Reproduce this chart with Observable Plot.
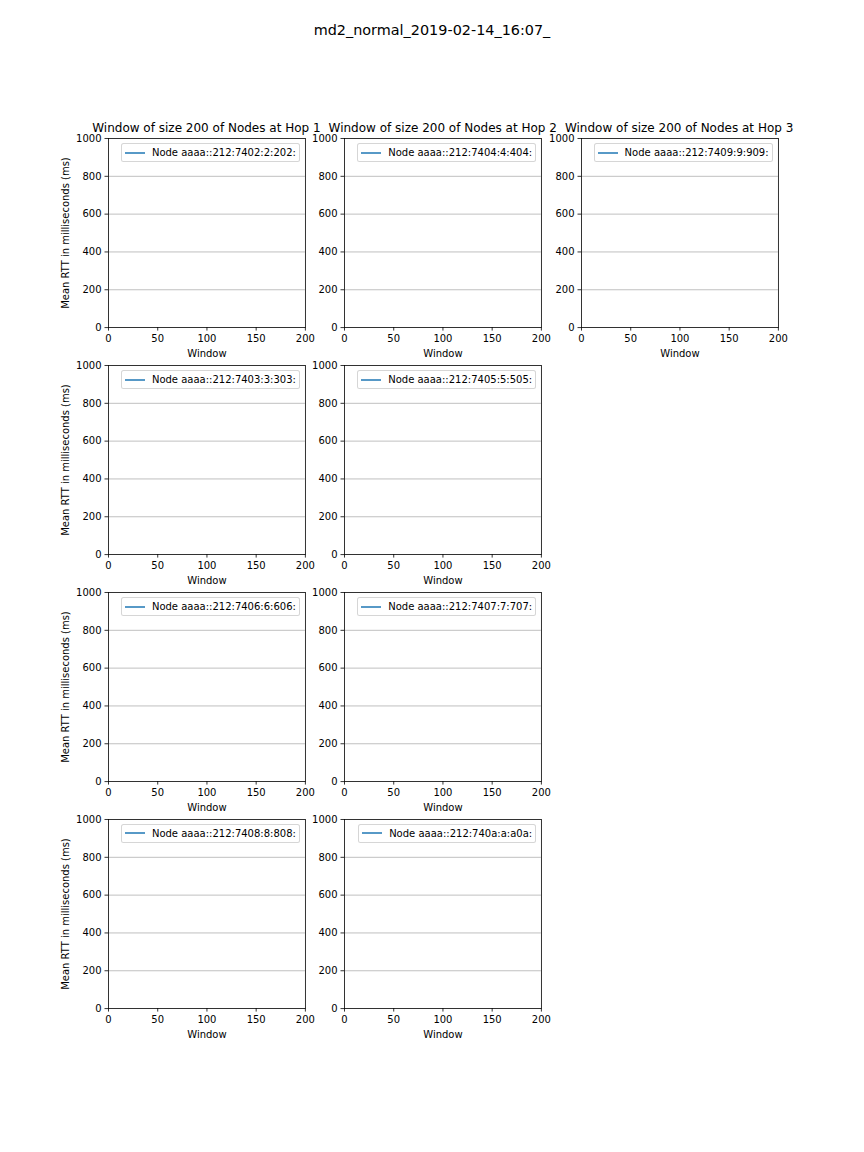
<!DOCTYPE html>
<html><head><meta charset="utf-8">
<script src="https://cdn.jsdelivr.net/npm/d3@7"></script>
<script src="https://cdn.jsdelivr.net/npm/@observablehq/plot@0.6"></script>
<style>
html,body{margin:0;padding:0;background:#fff;}
#fig{position:relative;width:864px;height:1152px;font-family:"DejaVu Sans",sans-serif;color:#000;overflow:hidden;background:#fff}
.abs{position:absolute}
.suptitle{font-size:14.4px;left:0;width:864px;text-align:center;top:22px;line-height:17px;white-space:nowrap}
.ptitle{font-size:12px;line-height:14px;text-align:center;white-space:nowrap}
.legend{box-sizing:border-box;display:flex;align-items:center;height:19px;padding:0 3px 0 3px;border:1px solid rgba(204,204,204,0.8);border-radius:2.5px;background:rgba(255,255,255,0.8);font-size:10px;white-space:nowrap}
.legend svg{margin-right:7px;display:block}
</style></head>
<body><div id="fig"></div>
<script>
// ---- data ----
const figureTitle = "md2_normal_2019-02-14_16:07_";
const windowSize = 200;
const hopLabels = ["Hop 1", "Hop 2", "Hop 3"];
const hop1Nodes = ["aaaa::212:7402:2:202:", "aaaa::212:7403:3:303:", "aaaa::212:7406:6:606:", "aaaa::212:7408:8:808:"];
const hop2Nodes = ["aaaa::212:7404:4:404:", "aaaa::212:7405:5:505:", "aaaa::212:7407:7:707:", "aaaa::212:740a:a:a0a:"];
const hop3Nodes = ["aaaa::212:7409:9:909:"];
// mean RTT per window (ms) for each node: no samples are drawn in the reference
const hop1Rtt = [[], [], [], []];
const hop2Rtt = [[], [], [], []];
const hop3Rtt = [[]];
const xTicks = [0, 50, 100, 150, 200];
const yTicks = [0, 200, 400, 600, 800, 1000];
const yMax = 1000;
const yLabel = "Mean RTT in milliseconds (ms)";
const xLabel = "Window";
const lineColor = "#1f77b4";

// ---- layout ----
const fig = document.getElementById("fig");
const axLeft = [108, 344.3, 580.7], axW = 196.9;
const axTop = [138.2, 365.1, 592.0, 818.9], axH = 189.1;

const sup = document.createElement("div");
sup.className = "abs suptitle";
sup.textContent = figureTitle;
fig.appendChild(sup);

const columns = [
  {nodes: hop1Nodes, rtt: hop1Rtt, hop: hopLabels[0]},
  {nodes: hop2Nodes, rtt: hop2Rtt, hop: hopLabels[1]},
  {nodes: hop3Nodes, rtt: hop3Rtt, hop: hopLabels[2]}
];

function panel(col, row, node, rtt, hop) {
  const mL = 62, mR = 14, mT = 8, mB = 42;
  const chart = Plot.plot({
    width: mL + axW + mR, height: mT + axH + mB,
    marginLeft: mL, marginRight: mR, marginTop: mT, marginBottom: mB,
    style: {fontFamily: "DejaVu Sans", fontSize: "10px", background: "none", color: "black", overflow: "visible"},
    x: {domain: [0, windowSize]},
    y: {domain: [0, yMax]},
    marks: [
      Plot.gridY(yTicks.slice(1, -1), {stroke: "#b0b0b0", strokeOpacity: 1, strokeWidth: 0.8}),
      Plot.lineY(rtt, {x: (d, i) => i, y: d => d, stroke: lineColor, strokeWidth: 1.5}),
      Plot.frame({stroke: "black", strokeWidth: 0.8}),
      Plot.axisX(xTicks, {tickSize: 3.5, tickPadding: 3.5, strokeWidth: 0.8, tickFormat: d => String(d), label: xLabel, labelAnchor: "center", labelArrow: "none", labelOffset: 29}),
      Plot.axisY(yTicks, {tickSize: 3.5, tickPadding: 3.5, strokeWidth: 0.8, tickFormat: d => String(d), label: col === 0 ? yLabel : null, labelAnchor: "center", labelArrow: "none", labelOffset: 47})
    ]
  });
  chart.style.position = "absolute";
  chart.style.left = (axLeft[col] - mL) + "px";
  chart.style.top = (axTop[row] - mT) + "px";
  fig.appendChild(chart);

  // legend (upper right)
  const lg = document.createElement("div");
  lg.className = "abs legend";
  lg.style.right = (864 - (axLeft[col] + axW - 5)) + "px";
  lg.style.top = (axTop[row] + 5) + "px";
  lg.innerHTML = `<svg width="20" height="10"><line x1="0" x2="20" y1="5" y2="5" stroke="${lineColor}" stroke-width="1.5"/></svg><span>Node ${node}</span>`;
  fig.appendChild(lg);

  if (row === 0) {
    const t = document.createElement("div");
    t.className = "abs ptitle";
    t.style.left = (axLeft[col] + axW / 2 - 150) + "px";
    t.style.width = "300px";
    t.style.top = (axTop[row] - 17.5) + "px";
    t.textContent = `Window of size ${windowSize} of Nodes at ${hop}`;
    fig.appendChild(t);
  }
}

columns.forEach((c, col) => c.nodes.forEach((node, row) => panel(col, row, node, c.rtt[row], c.hop)));
</script>
</body></html>
